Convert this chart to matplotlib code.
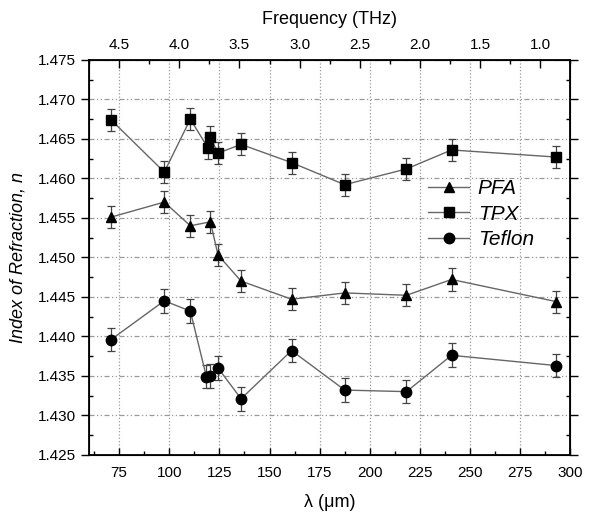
import numpy as np
import matplotlib
matplotlib.use('Agg')
import matplotlib.pyplot as plt
from matplotlib.ticker import MultipleLocator
from matplotlib.lines import Line2D

plt.rcParams['font.family'] = ['Liberation Sans', 'DejaVu Sans']

# wavelength (um) and index of refraction
lam_pfa = [71, 97.5, 110.5, 120.5, 124.3, 135.8, 161, 187.5, 218.3, 240.8, 293]
n_pfa = [1.4551, 1.4570, 1.4540, 1.4545, 1.4503, 1.4470, 1.4447, 1.4455, 1.4452, 1.4472, 1.4444]
err_pfa = [0.0014] * len(lam_pfa)

lam_tpx = [71, 97.5, 110.5, 119.2, 120.5, 124.3, 135.8, 161, 187.5, 218.3, 240.8, 293]
n_tpx = [1.4674, 1.4608, 1.4675, 1.4639, 1.4652, 1.4632, 1.4643, 1.4620, 1.4592, 1.4612, 1.4636, 1.4627]
err_tpx = [0.0014] * len(lam_tpx)

lam_tef = [71, 97.5, 110.5, 118.5, 120.5, 124.3, 135.8, 161, 187.5, 218.3, 240.8, 293]
n_tef = [1.4396, 1.4445, 1.4432, 1.4349, 1.4350, 1.4360, 1.4321, 1.4382, 1.4332, 1.4330, 1.4376, 1.4363]
err_tef = [0.0015] * len(lam_tef)

fig = plt.figure(figsize=(5.94, 5.21), dpi=100)
ax = fig.add_axes([0.150, 0.127, 0.810, 0.758])

line_kw = dict(color='#666666', lw=1.0, ecolor='#444444', elinewidth=0.9,
               capsize=3, capthick=0.9, markerfacecolor='black',
               markeredgecolor='black', markersize=7.5)
ax.errorbar(lam_pfa, n_pfa, yerr=err_pfa, marker='^', **line_kw)
ax.errorbar(lam_tpx, n_tpx, yerr=err_tpx, marker='s', **line_kw)
ax.errorbar(lam_tef, n_tef, yerr=err_tef, marker='o', **line_kw)

ax.set_xlim(60, 300)
ax.set_ylim(1.425, 1.475)
ax.xaxis.set_major_locator(MultipleLocator(25))
ax.xaxis.set_minor_locator(MultipleLocator(12.5))
ax.yaxis.set_major_locator(MultipleLocator(0.005))
ax.yaxis.set_minor_locator(MultipleLocator(0.0025))
ax.yaxis.set_major_formatter(matplotlib.ticker.FormatStrFormatter('%.3f'))

# vertical grid dotted, horizontal dash-dot-dot
ax.grid(True, axis='x', color='#999999', linestyle=':', lw=0.9)
ax.grid(True, axis='y', color='#999999', linestyle=(0, (4, 2, 1, 2, 1, 2)), lw=0.9)

ax.tick_params(axis='x', which='major', direction='in', length=5, width=1, labelsize=11, pad=8)
ax.tick_params(axis='x', which='minor', direction='in', length=3, width=1)
ax.tick_params(axis='y', which='major', direction='out', length=6, width=1, labelsize=11,
               right=True)
ax.tick_params(axis='y', which='minor', direction='in', length=3, width=1, right=True)
for s in ax.spines.values():
    s.set_linewidth(1.3)

ax.set_xlabel('λ (μm)', fontsize=13, labelpad=10)
ax.set_ylabel('Index of Refraction, n', fontsize=13, style='italic', labelpad=8)

# top axis in frequency (drawn linear, as in the original)
ax2 = ax.twiny()
ax2.set_xlim(4.75, 0.75)
ax2.xaxis.set_major_locator(MultipleLocator(0.5))
ax2.xaxis.set_minor_locator(MultipleLocator(0.25))
ax2.xaxis.set_major_formatter(matplotlib.ticker.FormatStrFormatter('%.1f'))
ax2.tick_params(axis='x', which='major', direction='in', length=6, width=1, labelsize=11, pad=6)
ax2.tick_params(axis='x', which='minor', direction='in', length=3, width=1)
ax2.set_xlabel('Frequency (THz)', fontsize=13, labelpad=10)

# legend handles without the error bars
handles = [Line2D([], [], color='#666666', lw=1.0, marker=m, markersize=7.5,
                  markerfacecolor='black', markeredgecolor='black')
           for m in ['^', 's', 'o']]
ax.legend(handles, ['PFA', 'TPX', 'Teflon'], loc='upper left',
          bbox_to_anchor=(0.665, 0.745), frameon=False,
          prop=dict(size=15, style='italic'), handlelength=2.0,
          labelspacing=0.3, handletextpad=0.4)

fig.savefig('out.png', dpi=100)
